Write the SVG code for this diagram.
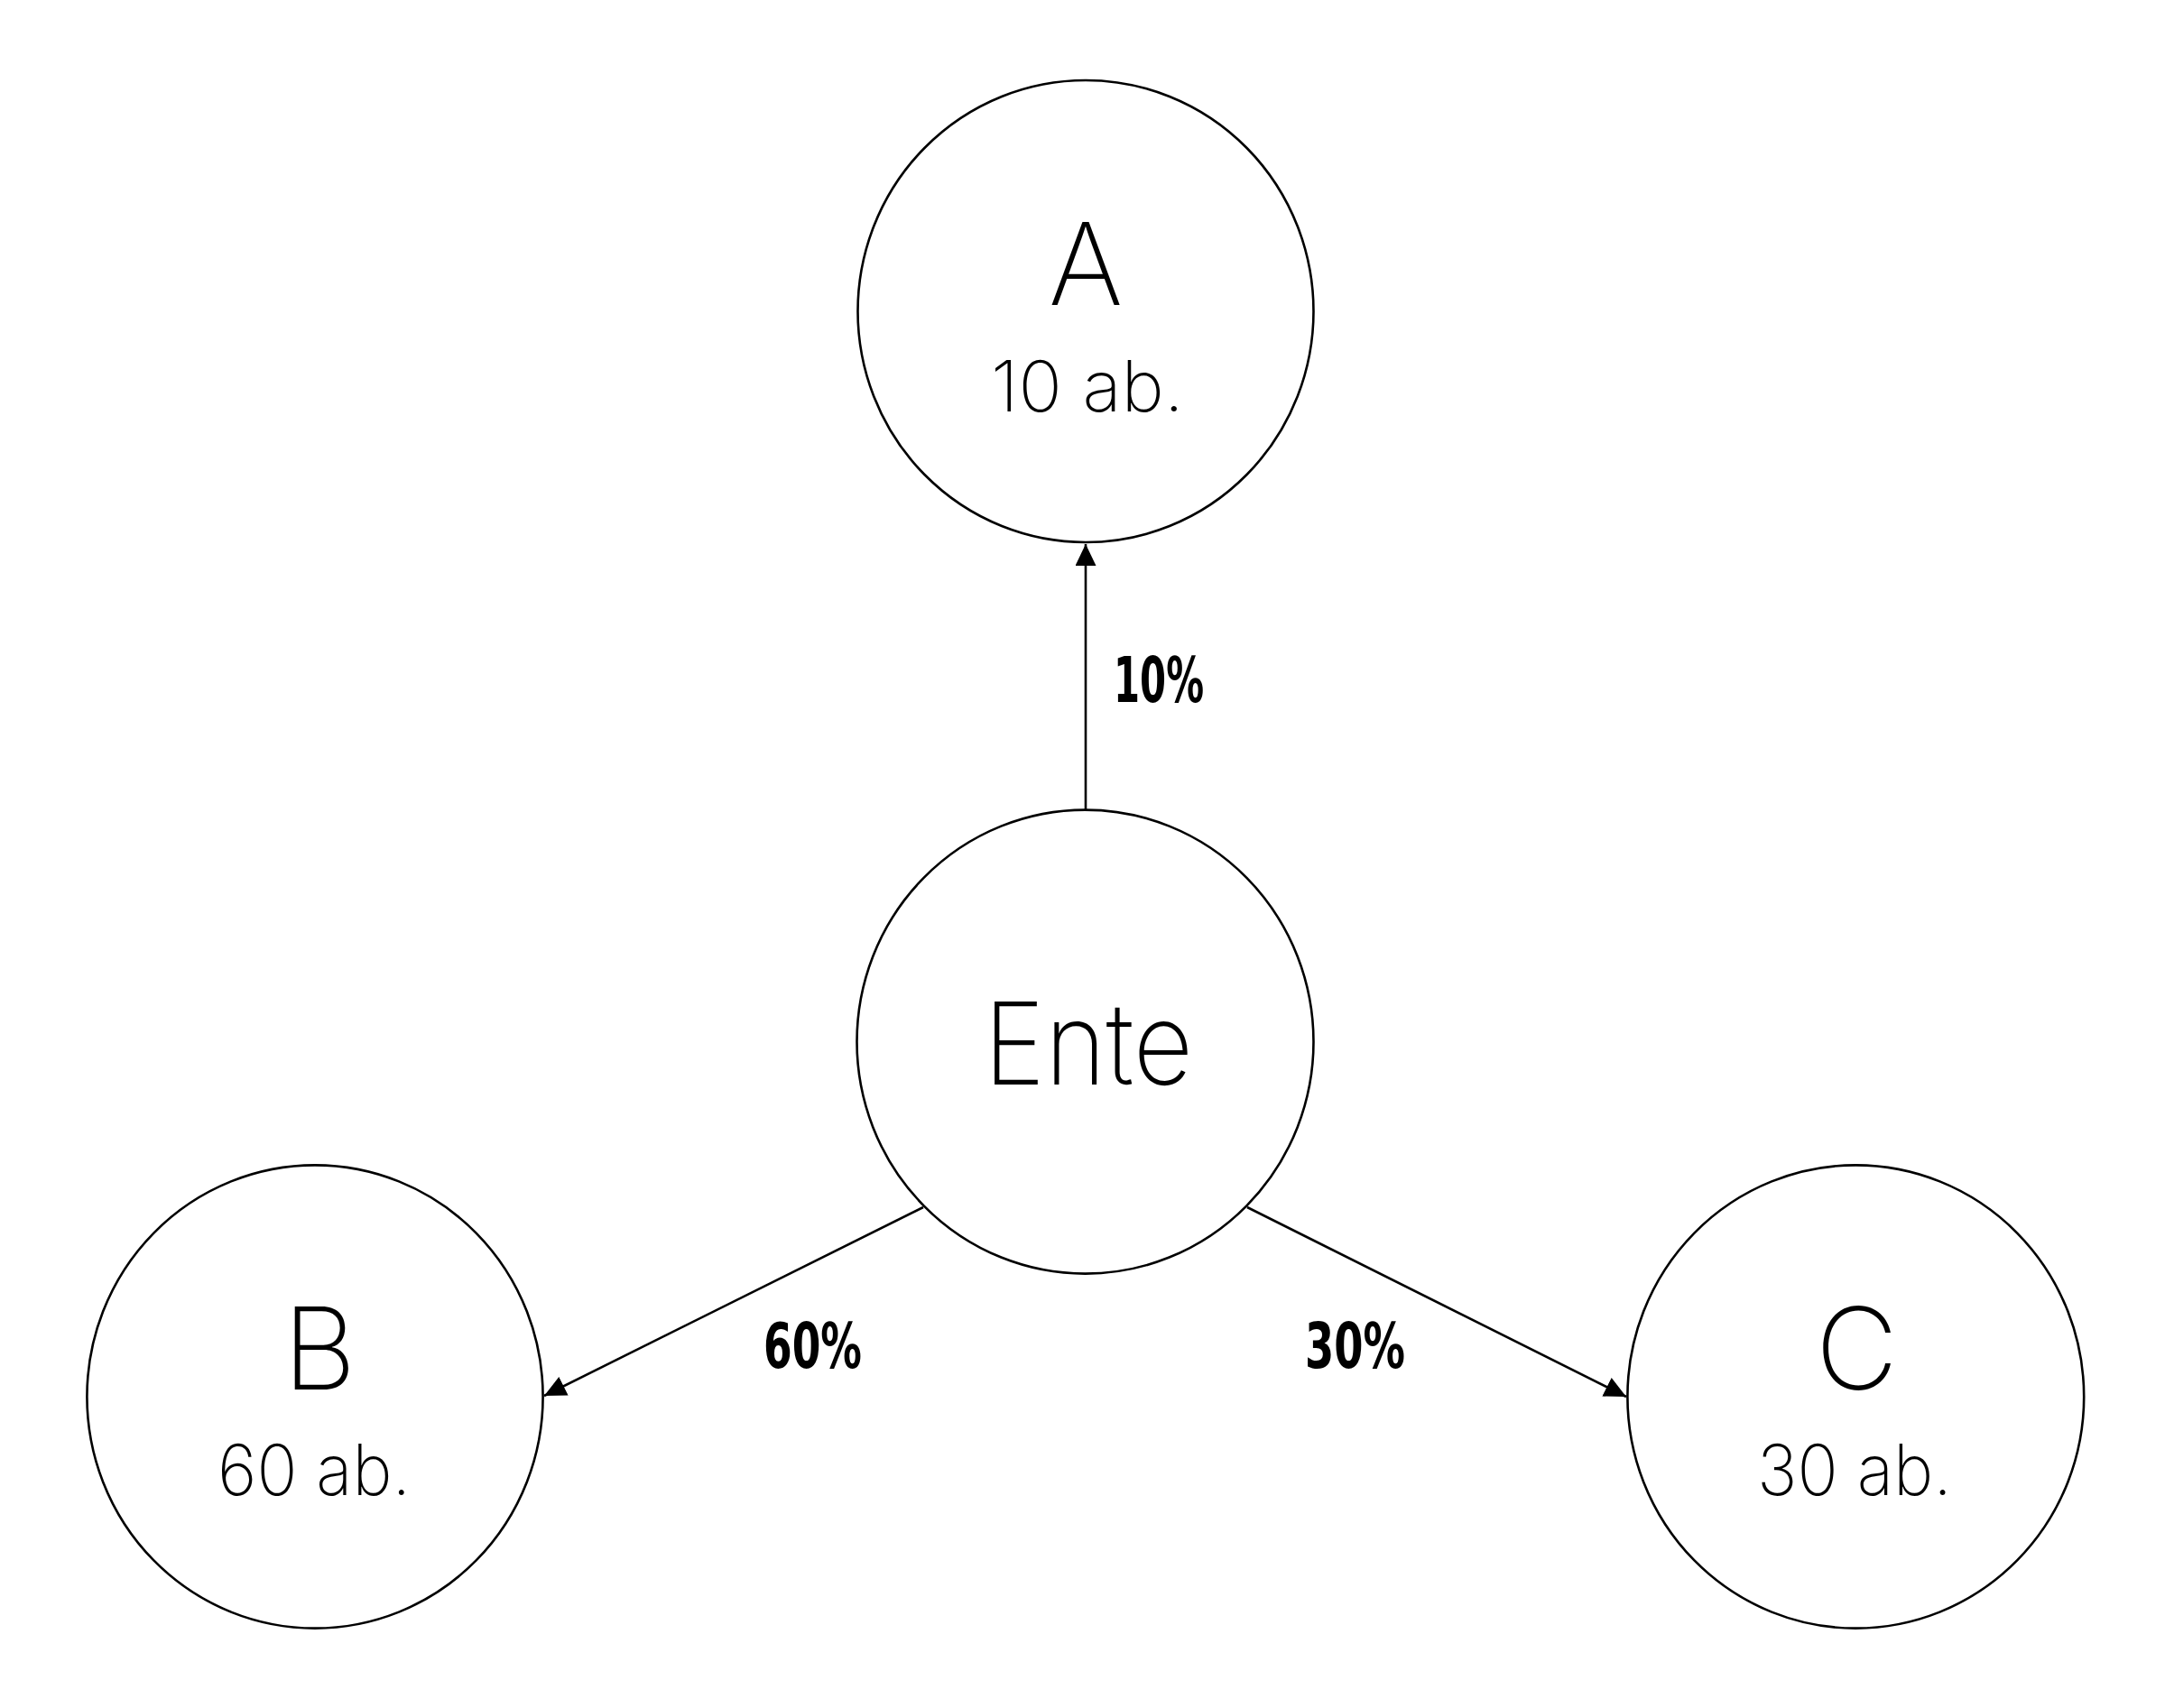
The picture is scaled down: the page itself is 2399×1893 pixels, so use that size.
<svg xmlns="http://www.w3.org/2000/svg" width="2399" height="1893" viewBox="0 0 2399 1893">
<style>
.node{fill:#fff;stroke:#000;stroke-width:2.6}
.big{font-family:Inter,"Open Sans","Liberation Sans",sans-serif;font-weight:200;font-size:126px;fill:#000}
.sub{font-family:Inter,"Open Sans","Liberation Sans",sans-serif;font-weight:200;font-size:78px;fill:#000}
.pct{font-family:"Liberation Sans Narrow","DejaVu Sans Condensed","DejaVu Sans",sans-serif;font-stretch:condensed;font-weight:bold;font-size:70px;fill:#000}
.edge{stroke:#000;stroke-width:2.6;fill:none;marker-end:url(#arr)}
</style>
<defs>
<marker id="arr" markerUnits="userSpaceOnUse" markerWidth="26" markerHeight="24" refX="24" refY="11.5" orient="auto">
<path d="M0,0 L24,11.5 L0,23 Z" fill="#000"/>
</marker>
</defs>
<rect width="2399" height="1893" fill="#fff"/>
<g id="connectors">
<line class="edge" x1="1203" y1="897" x2="1203" y2="603"/>
<line class="edge" x1="1023" y1="1338" x2="603" y2="1547"/>
<line class="edge" x1="1382" y1="1338" x2="1802" y2="1548"/>
<text class="pct" x="1234" y="778" textLength="100" lengthAdjust="spacingAndGlyphs">10%</text>
<text class="pct" x="846" y="1516" textLength="109" lengthAdjust="spacingAndGlyphs">60%</text>
<text class="pct" x="1446" y="1516" textLength="111" lengthAdjust="spacingAndGlyphs">30%</text>
</g>
<g id="node-A">
<ellipse class="node" cx="1203" cy="345" rx="252.5" ry="256"/>
<text class="big" x="1203" y="338" text-anchor="middle">A</text>
<text class="sub" x="1098" y="456" textLength="214" lengthAdjust="spacingAndGlyphs">10 ab.</text>
</g>
<g id="node-Ente">
<ellipse class="node" cx="1202.5" cy="1154.6" rx="253" ry="257"/>
<text class="big" x="1090" y="1201.5" textLength="232" lengthAdjust="spacingAndGlyphs">Ente</text>
</g>
<g id="node-B">
<ellipse class="node" cx="349" cy="1548" rx="252.6" ry="256.6"/>
<text class="big" x="354" y="1540" text-anchor="middle">B</text>
<text class="sub" x="241" y="1657" textLength="214" lengthAdjust="spacingAndGlyphs">60 ab.</text>
</g>
<g id="node-C">
<ellipse class="node" cx="2056.3" cy="1548" rx="252.9" ry="256.6"/>
<text class="big" x="2057.5" y="1540" text-anchor="middle">C</text>
<text class="sub" x="1947" y="1657" textLength="216" lengthAdjust="spacingAndGlyphs">30 ab.</text>
</g>
</svg>
